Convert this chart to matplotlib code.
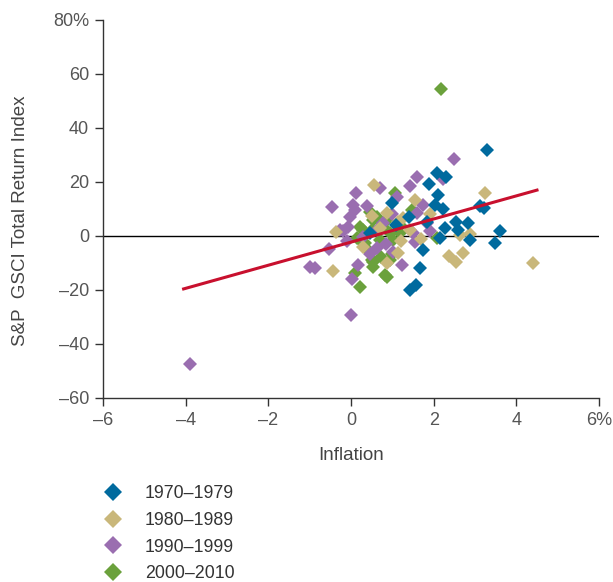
import matplotlib.pyplot as plt
from matplotlib.lines import Line2D

# Daten (aus dem Bild geschaetzt)
labels = ["1970–1979", "1980–1989", "1990–1999", "2000–2010"]
colors = ["#006a9e", "#c9b77a", "#9a6eb0", "#6ba13c"]

x70 = [3.29, 2.08, 2.30, 1.89, 2.11, 2.03, 2.23, 3.12, 3.22, 2.54, 2.83, 3.61, 3.49,
       2.27, 2.59, 2.88, 1.74, 1.67, 1.43, 1.57, 0.99, 0.46, 1.84, 2.15, 1.40, 1.10]
y70 = [31.9, 23.3, 21.9, 19.3, 15.2, 11.5, 10.0, 11.1, 10.4, 5.2, 4.8, 1.9, -2.6,
       3.0, 2.2, -1.5, -5.2, -11.9, -20.0, -18.1, 12.2, 1.1, 5.2, -0.7, 7.0, 4.0]

x80 = [3.24, 4.40, 2.37, 2.54, 2.71, 2.64, 2.88, -0.43, -0.36, 0.55, 0.88, 1.14,
       1.55, 1.26, 1.43, 0.87, 1.14, 1.90, 0.70, 1.20, 0.50, 0.30, 1.70]
y80 = [15.9, -10.0, -7.4, -9.6, -6.3, 0.4, 0.7, -13.0, 1.3, 19.0, -10.0, -6.3,
       13.3, 6.7, 2.2, 8.5, 5.2, 8.0, 3.0, -2.0, 7.5, -4.0, -1.0]

x90 = [-3.90, 0.00, -0.99, -0.87, -0.53, 0.17, 0.02, 0.63, 2.49, 2.23, 1.60, 1.43,
       0.70, 0.12, -0.46, 0.39, 0.05, -0.27, -0.07, 1.23, 0.77, 1.11, 1.74, 1.84,
       1.50, 1.55, 1.02, 0.29, 0.63, 0.10, -0.02, 1.00, 1.90, -0.10, 1.60, -0.20,
       0.45, 0.85]
y90 = [-47.4, -29.3, -11.5, -11.9, -4.8, -10.7, -15.9, -4.4, 28.5, 21.1, 21.9, 18.5,
       17.8, 15.9, 10.7, 11.1, 11.5, 2.2, 3.3, -10.7, 4.8, 14.4, 11.5, 4.8,
       1.1, -2.2, -5.9, -0.4, 2.2, 9.6, 7.0, 8.0, 2.0, -2.0, 8.5, 2.0,
       -6.5, -3.0]

x00 = [2.18, 0.22, 0.53, 0.82, 0.10, 0.87, 0.53, 0.51, 0.94, 2.08, 1.06, 0.22, 0.34,
       0.63, 0.87, 1.19, 1.02, 0.70, 1.48, 1.19, 0.15, 0.51, 0.46, 0.53, 0.77, 0.29,
       0.29, 1.00, 0.72, 0.40, 0.95]
y00 = [54.4, -18.9, -9.6, -14.4, -13.7, -15.2, -11.5, -8.9, -8.9, -0.7, 15.9, 3.3, -2.6,
       7.0, 5.9, 4.1, -1.5, -1.5, 9.6, 1.1, -0.7, 2.2, 8.9, 5.9, 3.3, 2.2,
       -2.6, -6.6, -7.8, -5.0, 1.0]

# Regressionslinie (Endpunkte)
fit_x = [-4.05, 4.5]
fit_y = [-19.6, 17.0]

xticks = [-6, -4, -2, 0, 2, 4, 6]
xticklabels = ["–6", "–4", "–2", "0", "2", "4", "6%"]
yticks = [-60, -40, -20, 0, 20, 40, 60, 80]
yticklabels = ["–60", "–40", "–20", "0", "20", "40", "60", "80%"]

plt.rcParams['font.family'] = ['Liberation Sans', 'DejaVu Sans']

fig = plt.figure(figsize=(6.13, 5.82), dpi=100)
ax = fig.add_axes([103 / 613, 1 - 398 / 582, 496 / 613, 378 / 582])

ax.axhline(0, color="black", lw=1, zorder=1)

series = [(x00, y00), (x90, y90), (x80, y80), (x70, y70)]
for i, (xs, ys) in enumerate(series):
    c = colors[3 - i]
    ax.plot(xs, ys, ls="none", marker="D", markersize=7.3, color=c,
            markeredgewidth=0, zorder=2 + i)

ax.plot(fit_x, fit_y, color="#c8102e", lw=2.2, zorder=10)

ax.set_xlim(-6, 6)
ax.set_ylim(-60, 80)
ax.set_xticks(xticks)
ax.set_xticklabels(xticklabels)
ax.set_yticks(yticks)
ax.set_yticklabels(yticklabels)

for s in ["top", "right"]:
    ax.spines[s].set_visible(False)
for s in ["left", "bottom"]:
    ax.spines[s].set_color("#333333")
    ax.spines[s].set_linewidth(1)

ax.tick_params(direction="out", length=6, width=1, color="#333333",
               labelsize=13, labelcolor="#555555", pad=4)

ax.set_xlabel("Inflation", fontsize=13.5, color="#444444")
ax.xaxis.set_label_coords(0.5, -0.151)
ax.xaxis.label.set_va("center")
ax.set_ylabel("S&P  GSCI Total Return Index", fontsize=13.5, color="#444444")
ax.yaxis.set_label_coords(-0.167, 0.47)
ax.yaxis.label.set_va("center")

handles = [Line2D([], [], ls="none", marker="D", markersize=9.5, color=c,
                  markeredgewidth=0) for c in colors]
fig.legend(handles, labels, loc="upper left",
           bbox_to_anchor=(104 / 613, 1 - 485 / 582),
           frameon=False, fontsize=12.8, handlelength=1.0, handletextpad=1.3,
           labelspacing=0.55, borderpad=0, borderaxespad=0, labelcolor="#333333")

fig.savefig("out.png", dpi=100)
